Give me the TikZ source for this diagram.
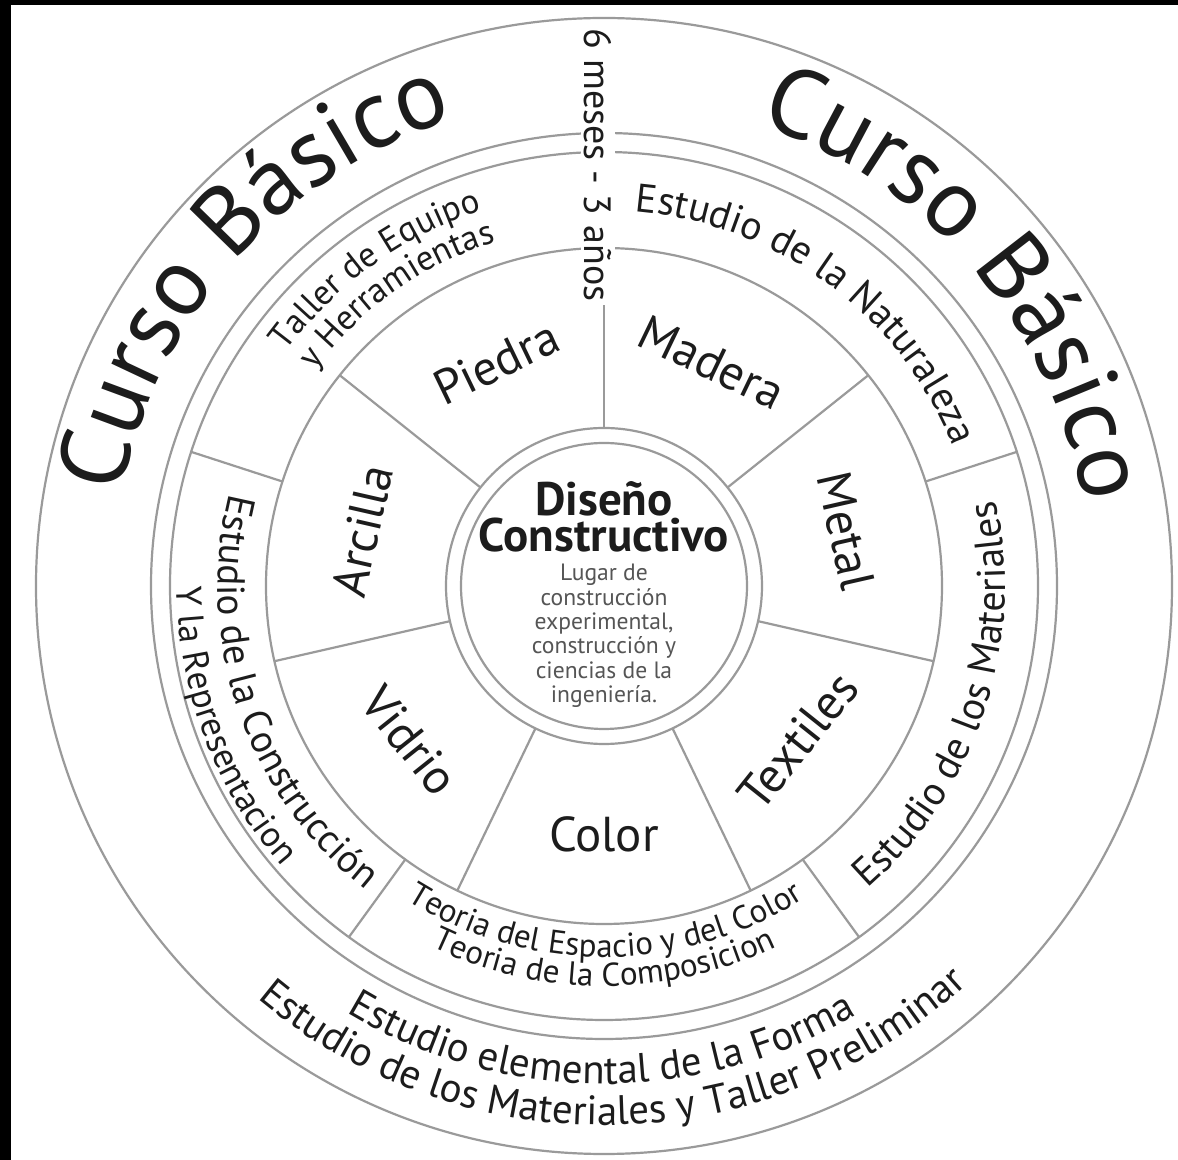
\documentclass[tikz,border=0pt]{standalone}
\usepackage{fontspec}
\setmainfont{PT Sans}
\usetikzlibrary{decorations.text,positioning}
\definecolor{rgray}{HTML}{9A9A9A}
\definecolor{ink}{HTML}{1C1C1C}
\definecolor{notegray}{HTML}{555555}
\tikzset{
  ring/.style     = {draw=rgray, line width=1.1pt},
  spoke/.style    = {draw=rgray, line width=1.1pt},
  material/.style = {text=ink, inner sep=0pt, font=\fontsize{24.5}{28}\selectfont},
  arctext/.style  = {decorate, decoration={text along path, text align=center,
                     text color=ink, text={#1}}},
}
\newcommand{\cursofont}{\fontsize{48.5}{52}\selectfont}
\newcommand{\bandfont}{\fontsize{20}{23}\selectfont}
\newcommand{\tallerfont}{\fontsize{17.5}{20}\selectfont}
\newcommand{\teoriafont}{\fontsize{16.5}{19}\selectfont}
\newcommand{\formafont}{\fontsize{20.5}{23}\selectfont}

\begin{document}
\begin{tikzpicture}[x=0.5pt,y=0.5pt]
\useasboundingbox (-604,-574) rectangle (574,586);
\fill[white] (-604,-574) rectangle (574,586);
\fill[black] (-604,581) rectangle (574,586);
\fill[black] (-604,-574) rectangle (-593,586);
% rings
\foreach \r in {568,453,434,338,158,143}
  \draw[ring] (0,0) circle[radius=\r];
% spokes of the seven materials
\foreach \k in {0,...,6}
  \draw[spoke] (90-\k*360/7:158) -- (90-\k*360/7:338);
% spokes of the five studies
\foreach \k in {1,...,4}
  \draw[spoke] (90-\k*72:338) -- (90-\k*72:434);
% materials
\foreach \ang/\lab/\rot in {115.71/Piedra/25.71, 64.29/Madera/-25.71,
    12.86/Metal/-77.14, -38.57/Textiles/51.43, -90/Color/0,
    -141.43/Vidrio/-51.43, 167.14/Arcilla/77.14}
  \node[material, rotate=\rot] (m-\lab) at (\ang:248) {\lab};
% centre
\node[text=ink, align=center, inner sep=0pt,
  font=\bfseries\fontsize{23.5}{16.5}\selectfont] (dis) at (0,69) {Diseño\\Constructivo};
\node[text=notegray, align=center, inner sep=0pt,
  font=\fontsize{11.8}{12.2}\selectfont] (lugar) at (0,-50)
  {Lugar de\\construcción\\experimental,\\construcción y\\ciencias de la\\ingeniería.};
% duration
\node[text=ink, fill=white, rotate=-90, inner sep=1.5pt,
  font=\fontsize{19}{22}\selectfont] (dur) at (-6,421) {6 meses - 3 años};
% outer band
\path[arctext={|\cursofont|Curso Básico}] (208.5:491) arc[start angle=208.5,end angle=68.5,radius=491];
\path[arctext={|\cursofont|Curso Básico}] (110.6:487) arc[start angle=110.6,end angle=-29.4,radius=487];
\path[arctext={|\formafont|Estudio elemental de la Forma}] (-160.3:498) arc[start angle=-160.3,end angle=-20.3,radius=498];
\path[arctext={|\formafont|Estudio de los Materiales y Taller Preliminar}] (-158.8:539) arc[start angle=-158.8,end angle=-18.8,radius=539];
% studies band
\path[arctext={|\tallerfont|Taller de Equipo}] (185.8:395) arc[start angle=185.8,end angle=65.8,radius=395];
\path[arctext={|\tallerfont|y Herramientas}] (185.4:361) arc[start angle=185.4,end angle=65.4,radius=361];
\path[arctext={|\bandfont|Estudio de la Naturaleza}] (113.5:376) arc[start angle=113.5,end angle=-6.5,radius=376];
\path[arctext={|\bandfont|Estudio de los Materiales}] (-78.3:401) arc[start angle=-78.3,end angle=41.7,radius=401];
\path[arctext={|\teoriafont|Teoria del Espacio y del Color}] (-149.8:371) arc[start angle=-149.8,end angle=-29.8,radius=371];
\path[arctext={|\teoriafont|Teoria de la Composicion}] (-150:400) arc[start angle=-150,end angle=-30,radius=400];
\path[arctext={|\fontsize{19.5}{22}\selectfont|Estudio de la Construcción}] (139:386) arc[start angle=139,end angle=259,radius=386];
\path[arctext={|\fontsize{18}{21}\selectfont|Y la Representacion}] (140.5:427) arc[start angle=140.5,end angle=260.5,radius=427];
\end{tikzpicture}
\end{document}
